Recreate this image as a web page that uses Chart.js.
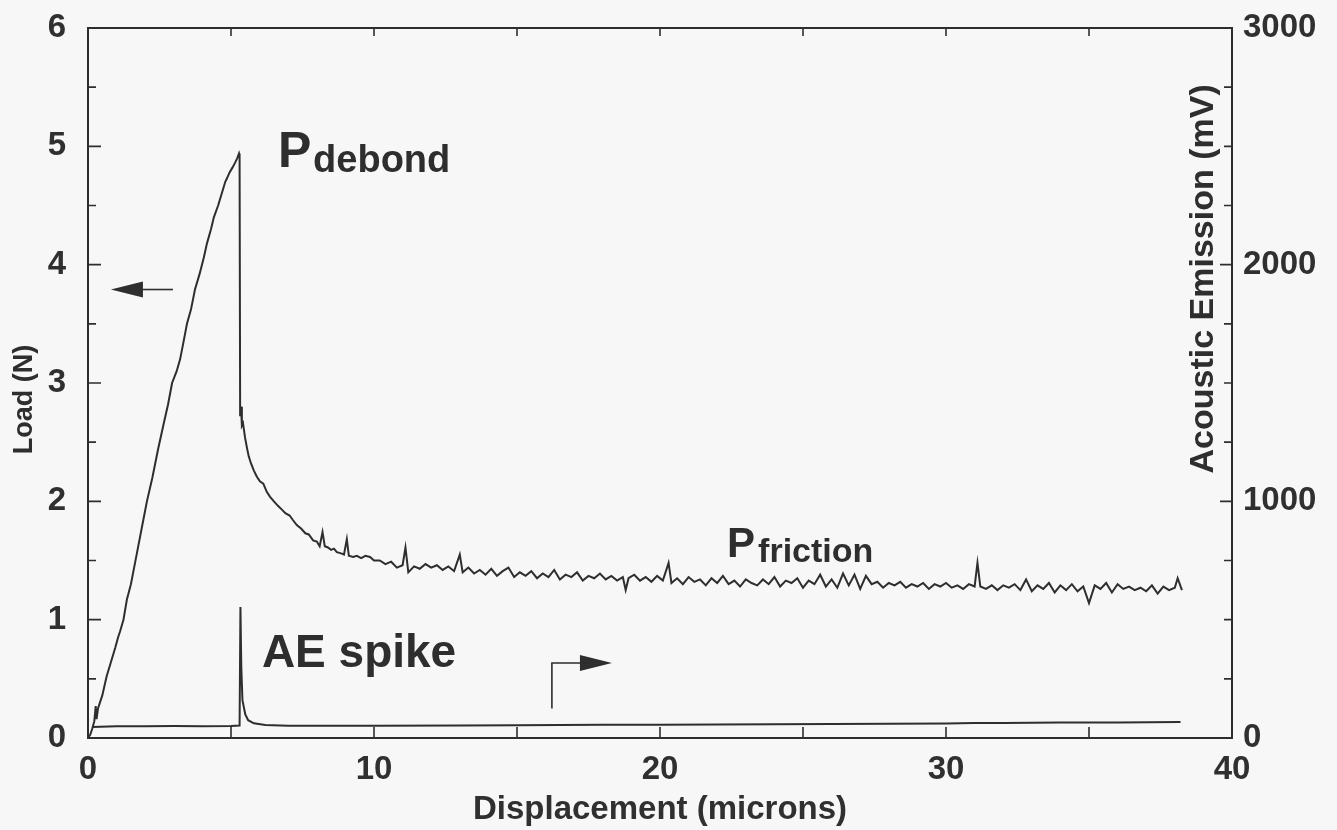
<!DOCTYPE html>
<html>
<head>
<meta charset="utf-8">
<script src="https://cdn.jsdelivr.net/npm/chart.js@4.4.1/dist/chart.umd.min.js"></script>
<style>
  html, body { margin: 0; padding: 0; background: #f7f7f7; }
  #wrap { width: 1337px; height: 830px; }
</style>
</head>
<body>
<div id="wrap"><canvas id="chart" width="1337" height="830"></canvas></div>
<script>
// load trace (displacement in microns, load in N)
const loadDisp = [
  0.00, 0.08, 0.15, 0.22, 0.27, 0.30, 0.35, 0.50, 0.65, 0.80, 0.95, 1.05, 1.12, 1.24, 1.36, 1.50,
  1.70, 1.90, 2.06, 2.25, 2.45, 2.65, 2.80, 2.94, 3.10, 3.22, 3.35, 3.46, 3.60, 3.74, 3.90, 4.05,
  4.16, 4.30, 4.40, 4.55, 4.70, 4.80, 4.86, 4.95, 5.05, 5.14, 5.22, 5.28, 5.30,
  5.32, 5.35, 5.38, 5.42, 5.49, 5.56, 5.62, 5.70, 5.80, 5.90, 6.01, 6.13, 6.25, 6.36, 6.50, 6.65,
  6.78, 6.90, 7.05, 7.17, 7.30, 7.45, 7.60, 7.72, 7.87, 8.00, 8.10, 8.20, 8.28, 8.39, 8.50, 8.60,
  8.70, 8.85, 8.95, 9.05, 9.12, 9.27, 9.40, 9.55, 9.70, 9.86, 10.0,
  10.2, 10.4, 10.6, 10.8, 11.0, 11.1, 11.2, 11.4, 11.6, 11.8, 12.0, 12.2, 12.4, 12.6, 12.8, 13.0,
  13.1, 13.3, 13.5, 13.7, 13.9, 14.1, 14.3, 14.5, 14.7, 14.9, 15.1, 15.3, 15.5, 15.7, 15.9, 16.1,
  16.3, 16.5, 16.7, 16.9, 17.1, 17.3, 17.5, 17.7, 17.9, 18.1, 18.3, 18.5, 18.7, 18.8, 18.9, 19.1,
  19.3, 19.5, 19.7, 19.9, 20.1, 20.3, 20.4, 20.6, 20.8, 21.0, 21.2, 21.4, 21.6, 21.8, 22.0, 22.2,
  22.4, 22.6, 22.8, 23.0, 23.2, 23.4, 23.6, 23.8, 24.0, 24.2, 24.4, 24.6, 24.8, 25.0, 25.2, 25.4,
  25.6, 25.8, 26.0, 26.2, 26.4, 26.6, 26.8, 27.0, 27.2, 27.4, 27.6, 27.8, 28.0, 28.2, 28.4, 28.6,
  28.8, 29.0, 29.2, 29.4, 29.6, 29.8, 30.0, 30.2, 30.4, 30.6, 30.8, 31.0, 31.1, 31.2, 31.4, 31.6,
  31.8, 32.0, 32.2, 32.4, 32.6, 32.8, 33.0, 33.2, 33.4, 33.6, 33.8, 34.0, 34.2, 34.4, 34.6, 34.8,
  35.0, 35.2, 35.4, 35.6, 35.8, 36.0, 36.2, 36.4, 36.6, 36.8, 37.0, 37.2, 37.4, 37.6, 37.8, 38.0,
  38.1, 38.25
];
const loadN = [
  0.00, 0.03, 0.08, 0.14, 0.27, 0.16, 0.25, 0.36, 0.52, 0.64, 0.76, 0.85, 0.90, 1.00, 1.17, 1.30,
  1.55, 1.80, 2.00, 2.20, 2.44, 2.66, 2.82, 3.00, 3.10, 3.20, 3.36, 3.50, 3.62, 3.79, 3.92, 4.06,
  4.18, 4.30, 4.40, 4.50, 4.62, 4.70, 4.73, 4.78, 4.82, 4.86, 4.90, 4.94, 4.92,
  2.72, 2.80, 2.64, 2.66, 2.54, 2.45, 2.38, 2.32, 2.26, 2.21, 2.17, 2.15, 2.08, 2.04, 2.00, 1.96,
  1.93, 1.90, 1.88, 1.84, 1.80, 1.77, 1.73, 1.72, 1.67, 1.66, 1.62, 1.74, 1.62, 1.61, 1.59, 1.60,
  1.57, 1.56, 1.55, 1.68, 1.54, 1.53, 1.54, 1.52, 1.54, 1.53, 1.50,
  1.50, 1.47, 1.49, 1.44, 1.46, 1.61, 1.40, 1.45, 1.43, 1.47, 1.44, 1.46, 1.42, 1.45, 1.41, 1.55,
  1.40, 1.44, 1.39, 1.42, 1.38, 1.43, 1.37, 1.41, 1.44, 1.36, 1.40, 1.37, 1.41, 1.35, 1.39, 1.36,
  1.42, 1.34, 1.38, 1.36, 1.40, 1.33, 1.37, 1.35, 1.39, 1.34, 1.37, 1.33, 1.36, 1.25, 1.35, 1.38,
  1.33, 1.36, 1.32, 1.37, 1.33, 1.48, 1.31, 1.35, 1.30, 1.36, 1.32, 1.34, 1.29, 1.35, 1.31, 1.37,
  1.30, 1.33, 1.28, 1.34, 1.31, 1.29, 1.34, 1.30, 1.36, 1.28, 1.33, 1.31, 1.35, 1.27, 1.33, 1.30,
  1.38, 1.28, 1.34, 1.27, 1.39, 1.29, 1.38, 1.26, 1.37, 1.30, 1.32, 1.27, 1.31, 1.29, 1.32, 1.27,
  1.30, 1.28, 1.31, 1.26, 1.30, 1.28, 1.31, 1.27, 1.29, 1.26, 1.30, 1.28, 1.48, 1.28, 1.26, 1.29,
  1.25, 1.29, 1.27, 1.30, 1.25, 1.34, 1.24, 1.29, 1.26, 1.31, 1.23, 1.29, 1.25, 1.30, 1.24, 1.28,
  1.14, 1.29, 1.26, 1.31, 1.23, 1.30, 1.26, 1.28, 1.25, 1.27, 1.24, 1.29, 1.22, 1.28, 1.25, 1.27,
  1.35, 1.25
];

// acoustic emission trace (displacement in microns, mV)
const aeDisp = [0.15, 1.0, 2.0, 3.0, 4.0, 5.0, 5.30, 5.33, 5.36, 5.40, 5.50, 5.60, 5.80, 6.2, 7.0,
  10.0, 13.0, 15.0, 18.0, 20.0, 22.0, 24.0, 26.0, 28.0, 30.0, 31.0, 32.0, 34.0, 36.0, 38.2];
const aeMV = [46, 50, 50, 51, 50, 51, 53, 553, 300, 160, 100, 75, 62, 55, 52,
  52, 53, 54, 56, 56, 57, 58, 59, 60, 61, 63, 63, 65, 66, 68];

// axis tick marks (inward) and labels
const xTickLabels = [0, 10, 20, 30, 40];
const xMarks = [5, 10, 15, 20, 25, 30, 35];
const loadMajor = [1, 2, 3, 4, 5];
const loadMinor = [0.5, 1.5, 2.5, 3.5, 4.5, 5.5];
const aeMajor = [1000, 2000];
const aeMinor = [250, 500, 750, 1250, 1500, 1750, 2250, 2500, 2750];

const INK = '#2e2e2e';
const FONT = '"Liberation Sans", Arial, Helvetica, sans-serif';

const overlay = {
  id: 'overlay',
  afterDraw(chart) {
    const { ctx, chartArea: a, scales: { x, y, y2 } } = chart;
    ctx.save();
    ctx.strokeStyle = INK;
    ctx.fillStyle = INK;
    ctx.lineWidth = 2;
    ctx.strokeRect(a.left, a.top, a.right - a.left, a.bottom - a.top);

    ctx.lineWidth = 1.6;
    ctx.beginPath();
    xMarks.forEach(v => {
      const px = x.getPixelForValue(v);
      ctx.moveTo(px, a.bottom); ctx.lineTo(px, a.bottom - 11);
      ctx.moveTo(px, a.top); ctx.lineTo(px, a.top + 8);
    });
    loadMajor.forEach(v => {
      const py = y.getPixelForValue(v);
      ctx.moveTo(a.left, py); ctx.lineTo(a.left + 13, py);
    });
    loadMinor.forEach(v => {
      const py = y.getPixelForValue(v);
      ctx.moveTo(a.left, py); ctx.lineTo(a.left + 8, py);
    });
    aeMajor.forEach(v => {
      const py = y2.getPixelForValue(v);
      ctx.moveTo(a.right, py); ctx.lineTo(a.right - 12, py);
    });
    aeMinor.forEach(v => {
      const py = y2.getPixelForValue(v);
      ctx.moveTo(a.right, py); ctx.lineTo(a.right - 8, py);
    });
    ctx.stroke();

    // arrow to the load axis
    const ay = y.getPixelForValue(3.79);
    ctx.lineWidth = 1.6;
    ctx.beginPath();
    ctx.moveTo(x.getPixelForValue(2.97), ay);
    ctx.lineTo(x.getPixelForValue(1.9), ay);
    ctx.stroke();
    ctx.beginPath();
    ctx.moveTo(x.getPixelForValue(0.8), ay);
    ctx.lineTo(x.getPixelForValue(1.92), ay - 8);
    ctx.lineTo(x.getPixelForValue(1.92), ay + 8);
    ctx.closePath();
    ctx.fill();

    // arrow to the AE axis
    const bx = x.getPixelForValue(16.22);
    const by = y.getPixelForValue(0.634);
    ctx.beginPath();
    ctx.moveTo(bx, y.getPixelForValue(0.25));
    ctx.lineTo(bx, by);
    ctx.lineTo(x.getPixelForValue(17.25), by);
    ctx.stroke();
    ctx.beginPath();
    ctx.moveTo(x.getPixelForValue(18.32), by);
    ctx.lineTo(x.getPixelForValue(17.2), by - 8);
    ctx.lineTo(x.getPixelForValue(17.2), by + 8);
    ctx.closePath();
    ctx.fill();

    // labels
    ctx.textBaseline = 'alphabetic';
    ctx.textAlign = 'left';
    ctx.font = 'bold 50px ' + FONT;
    ctx.fillText('P', x.getPixelForValue(6.64), y.getPixelForValue(4.825));
    ctx.font = 'bold 38px ' + FONT;
    ctx.fillText('debond', x.getPixelForValue(7.87), y.getPixelForValue(4.78));
    ctx.font = 'bold 42px ' + FONT;
    ctx.fillText('P', x.getPixelForValue(22.34), y.getPixelForValue(1.53));
    ctx.font = 'bold 34px ' + FONT;
    ctx.fillText('friction', x.getPixelForValue(23.43), y.getPixelForValue(1.487));
    ctx.font = 'bold 46px ' + FONT;
    ctx.fillText('AE spike', x.getPixelForValue(6.08), y.getPixelForValue(0.60));

    // axis titles
    ctx.textAlign = 'center';
    ctx.textBaseline = 'middle';
    ctx.save();
    ctx.translate(a.left - 63, y.getPixelForValue(2.86));
    ctx.rotate(-Math.PI / 2);
    ctx.font = 'bold 27px ' + FONT;
    ctx.fillText('Load (N)', 0, 0);
    ctx.restore();
    ctx.save();
    ctx.translate(a.right - 28, y2.getPixelForValue(1940));
    ctx.rotate(-Math.PI / 2);
    ctx.font = 'bold 34px ' + FONT;
    ctx.fillText('Acoustic Emission (mV)', 0, 0);
    ctx.restore();

    ctx.restore();
  }
};

const tickFont = { family: FONT, size: 33, weight: 'bold' };

new Chart(document.getElementById('chart'), {
  type: 'line',
  data: {
    datasets: [
      {
        label: 'Load',
        data: loadDisp.map((d, i) => ({ x: d, y: loadN[i] })),
        yAxisID: 'y',
        borderColor: INK,
        borderWidth: 2,
        pointRadius: 0,
        tension: 0
      },
      {
        label: 'Acoustic Emission',
        data: aeDisp.map((d, i) => ({ x: d, y: aeMV[i] })),
        yAxisID: 'y2',
        borderColor: INK,
        borderWidth: 2,
        pointRadius: 0,
        tension: 0
      }
    ]
  },
  options: {
    responsive: false,
    animation: false,
    layout: { padding: { top: 28, left: 0, right: 0, bottom: 0 } },
    plugins: { legend: { display: false }, tooltip: { enabled: false } },
    scales: {
      x: {
        type: 'linear', min: 0, max: 40,
        afterFit: s => { s.height = 92; s.paddingLeft = 0; s.paddingRight = 0; },
        afterBuildTicks: s => { s.ticks = xTickLabels.map(v => ({ value: v })); },
        ticks: { font: tickFont, color: '#303030', padding: 12, callback: v => String(v) },
        grid: { display: false, drawTicks: false, tickLength: 0 },
        border: { display: false },
        title: { display: true, text: 'Displacement (microns)', font: tickFont, color: '#303030', padding: { top: 0, bottom: 0 } }
      },
      y: {
        position: 'left', min: 0, max: 6,
        afterFit: s => { s.width = 88; s.paddingTop = 0; s.paddingBottom = 0; },
        ticks: { stepSize: 1, font: tickFont, color: '#303030', padding: 22, callback: v => String(v) },
        grid: { display: false, drawTicks: false, tickLength: 0 },
        border: { display: false }
      },
      y2: {
        position: 'right', min: 0, max: 3000,
        afterFit: s => { s.width = 105; s.paddingTop = 0; s.paddingBottom = 0; },
        ticks: { stepSize: 1000, font: tickFont, color: '#303030', padding: 11, callback: v => String(v) },
        grid: { display: false, drawTicks: false, tickLength: 0 },
        border: { display: false }
      }
    }
  },
  plugins: [overlay]
});
</script>
</body>
</html>
